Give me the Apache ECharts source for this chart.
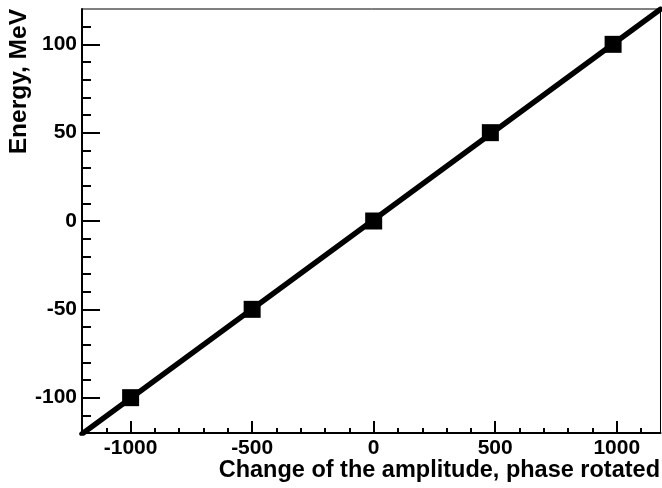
<!DOCTYPE html>
<html>
<head>
<meta charset="utf-8">
<script src="https://cdn.jsdelivr.net/npm/echarts@6/dist/echarts.min.js"></script>
<style>
html,body{margin:0;padding:0;background:#fff;}
#c{width:662px;height:488px;}
</style>
</head>
<body>
<div id="c"></div>
<script>
// ---- data ----
const xValues = [-1000, -500, 0, 480, 985];
const yValues = [-100, -50, 0, 50, 100];
const xMajorTicks = [-1000, -500, 0, 500, 1000];
const xMinorTicks = [-1100, -900, -800, -700, -600, -400, -300, -200, -100, 100, 200, 300, 400, 600, 700, 800, 900, 1100];
const yMajorTicks = [-100, -50, 0, 50, 100];
const yMinorTicks = [-110, -90, -80, -70, -60, -40, -30, -20, -10, 10, 20, 30, 40, 60, 70, 80, 90, 110];
const xRange = [-1200, 1180];
const yRange = [-120, 120];
const xTitle = 'Change of the amplitude, phase rotated';
const yTitle = 'Energy, MeV';

// least squares fit through the points
const n = xValues.length;
const mx = xValues.reduce((a, b) => a + b, 0) / n;
const my = yValues.reduce((a, b) => a + b, 0) / n;
let sxy = 0, sxx = 0;
for (let i = 0; i < n; i++) { sxy += (xValues[i] - mx) * (yValues[i] - my); sxx += (xValues[i] - mx) ** 2; }
const slope = sxy / sxx, icpt = my - slope * mx;
const fitLine = xRange.map(x => [x, slope * x + icpt]);
const points = xValues.map((x, i) => [x, yValues[i]]);

const FONT = '"Liberation Sans", Arial, Helvetica, sans-serif';
const chart = echarts.init(document.getElementById('c'), null, {renderer: 'canvas'});
const lbl = {color: '#000', fontFamily: FONT, fontWeight: 'bold', fontSize: 21, formatter: v => String(v)};
chart.setOption({
  animation: false,
  backgroundColor: '#fff',
  grid: {left: 82, right: 1.5, top: 9, bottom: 55, show: true, borderColor: '#000', borderWidth: 1, containLabel: false, outerBoundsMode: 'none'},
  xAxis: [
    {type: 'value', min: xRange[0], max: xRange[1], position: 'bottom', splitLine: {show: false},
     axisLine: {show: true, onZero: false, lineStyle: {color: '#000', width: 2}},
     axisTick: {show: true, inside: true, length: 12, customValues: xMajorTicks, lineStyle: {color: '#000', width: 2}},
     axisLabel: Object.assign({show: true, margin: 5, customValues: xMajorTicks}, lbl)},
    {type: 'value', min: xRange[0], max: xRange[1], position: 'bottom', splitLine: {show: false},
     axisLine: {show: false, onZero: false},
     axisTick: {show: true, inside: true, length: 5, customValues: xMinorTicks, lineStyle: {color: '#000', width: 2}},
     axisLabel: {show: false}}
  ],
  yAxis: [
    {type: 'value', min: yRange[0], max: yRange[1], position: 'left', splitLine: {show: false},
     axisLine: {show: true, onZero: false, lineStyle: {color: '#000', width: 2}},
     axisTick: {show: true, inside: true, length: 18, customValues: yMajorTicks, lineStyle: {color: '#000', width: 2}},
     axisLabel: Object.assign({show: true, margin: 5, customValues: yMajorTicks}, lbl)},
    {type: 'value', min: yRange[0], max: yRange[1], position: 'left', splitLine: {show: false},
     axisLine: {show: false, onZero: false},
     axisTick: {show: true, inside: true, length: 9, customValues: yMinorTicks, lineStyle: {color: '#000', width: 2}},
     axisLabel: {show: false}}
  ],
  series: [
    {type: 'line', data: fitLine, xAxisIndex: 0, yAxisIndex: 0, symbol: 'none', clip: true,
     lineStyle: {color: '#000', width: 5.5, cap: 'round'}, z: 2},
    {type: 'scatter', data: points, xAxisIndex: 0, yAxisIndex: 0, symbol: 'rect', symbolSize: 17,
     itemStyle: {color: '#000', opacity: 1}, z: 3}
  ],
  graphic: [
    {type: 'text', x: 660, y: 471, style: {text: xTitle, align: 'right', verticalAlign: 'middle', fill: '#000',
      font: 'bold 23.5px ' + FONT}},
    {type: 'text', x: 19, y: 9, rotation: Math.PI / 2, style: {text: yTitle, align: 'right', verticalAlign: 'middle', fill: '#000',
      font: 'bold 24.5px ' + FONT}}
  ]
});
</script>
</body>
</html>
